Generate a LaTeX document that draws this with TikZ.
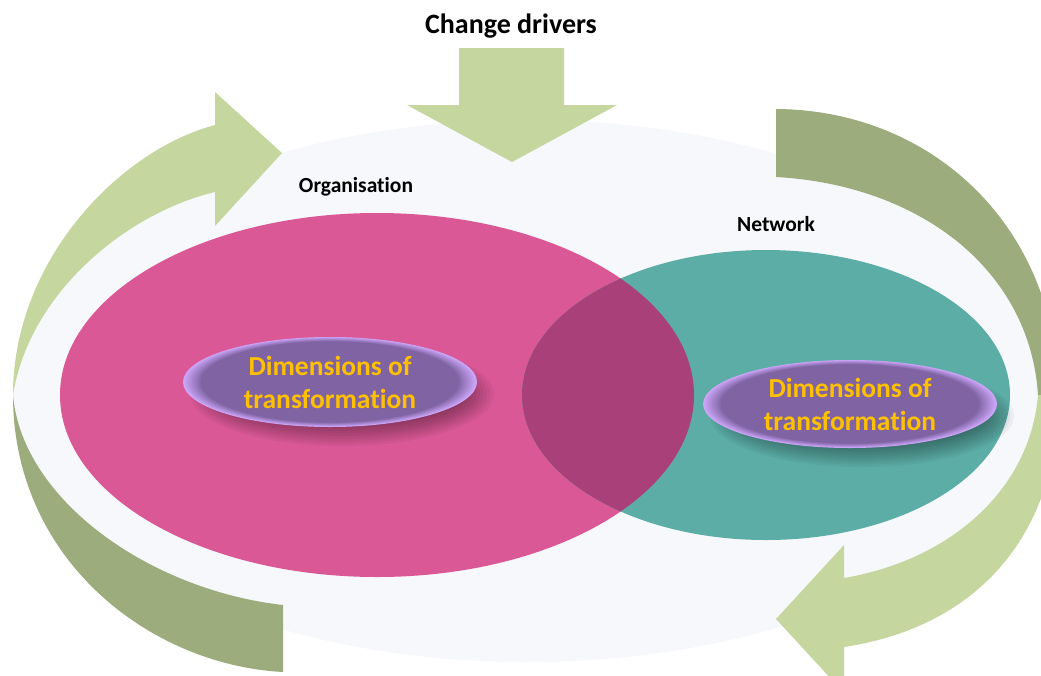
\documentclass[tikz,border=0pt]{standalone}
\usepackage{fontspec}
\setmainfont{Carlito}[Ligatures=NoCommon]
\usetikzlibrary{shapes.geometric}
\definecolor{pale}{HTML}{F7F8FB}
\definecolor{lgreen}{HTML}{C5D79E}
\definecolor{dgreen}{HTML}{9DAC7C}
\definecolor{orgpink}{HTML}{DA5896}
\definecolor{netteal}{HTML}{5BADA6}
\definecolor{overlapc}{HTML}{AA4079}
\definecolor{dimin}{HTML}{7F63A3}
\definecolor{dimrim}{HTML}{CBA5F7}
\definecolor{gold}{HTML}{FFC000}
\begin{document}
\begin{tikzpicture}[x=1pt,y=-1pt,
  dimnode/.style={ellipse, minimum width=294pt, minimum height=90pt, inner sep=0pt,
    font=\fontsize{27.5}{33}\selectfont\bfseries, text=gold, align=center},
  lbl/.style={font=\fontsize{21.5}{25}\selectfont\bfseries, text=black, anchor=base},
  shadowc/.style={black, opacity=0.045}]
\useasboundingbox (0,0) rectangle (1041,675);
% pale base ellipse
\fill[pale] (527,391) ellipse [x radius=514, y radius=271];
% left circular arrow (light top, dark bottom)
\fill[lgreen] (13,395) .. controls (13,260) and (120,150) .. (215,125) -- (215,92) -- (282,153)
  -- (215,226) -- (215,192) .. controls (130,212) and (30,290) .. (13,395) -- cycle;
\fill[dgreen] (13,395) .. controls (13,560) and (150,665) .. (283,672) -- (283,605)
  .. controls (150,590) and (22,500) .. (13,395) -- cycle;
% right circular arrow (dark top, light bottom)
\fill[dgreen] (776,109) .. controls (935,110) and (1058,230) .. (1058,395) -- (1038,395)
  .. controls (1030,270) and (920,185) .. (776,177) -- cycle;
\fill[lgreen] (1038,395) .. controls (1030,490) and (950,560) .. (844,578) -- (844,545)
  -- (776,619) -- (844,693) -- (844,647) .. controls (990,625) and (1060,520) .. (1058,395) -- cycle;
% change drivers arrow
\fill[lgreen] (459,48) -- (564,48) -- (564,105) -- (617,105) -- (512,162) -- (407,105) -- (459,105) -- cycle;
\node[font=\fontsize{28}{33}\selectfont\bfseries, anchor=base] (title) at (511,33) {Change drivers};
% organisation and network
\fill[orgpink] (377,395) ellipse [x radius=317, y radius=182];
\fill[netteal] (766,395) ellipse [x radius=244, y radius=145];
\begin{scope}
  \clip (377,395) ellipse [x radius=317, y radius=182];
  \fill[overlapc] (766,395) ellipse [x radius=244, y radius=145];
\end{scope}
\node[lbl] (orglbl) at (356,192) {Organisation};
\node[lbl] (netlbl) at (776,231) {Network};
% soft shadows
\foreach \i in {0,...,13} {
  \fill[shadowc] (342,394) ellipse [x radius={152-\i*3.5}, y radius={52-\i*2.5}];
  \fill[shadowc] (862,416) ellipse [x radius={152-\i*3.5}, y radius={51-\i*2.5}];
}
% glossy purple ellipses (rim glow)
\foreach \cx/\cy/\ry in {330/382/45, 850/404/44} {
  \fill[dimrim] (\cx,\cy) ellipse [x radius=147, y radius=\ry];
  \foreach \k in {1,...,8} {
    \pgfmathsetmacro{\mixp}{\k*12.5}
    \fill[dimin!\mixp!dimrim] (\cx,\cy) ellipse [x radius={147-\k*2.2}, y radius={\ry-\k*0.55}];
  }
}
\node[dimnode] (dimL) at (330,382) {Dimensions of\\transformation};
\node[dimnode, minimum height=88pt] (dimR) at (850,404) {Dimensions of\\transformation};
\end{tikzpicture}
\end{document}
